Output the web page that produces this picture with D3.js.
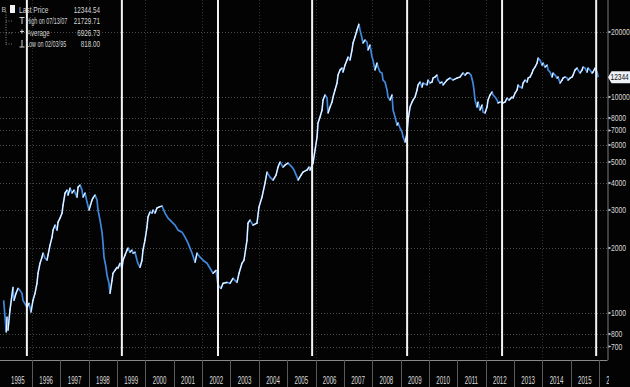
<!DOCTYPE html>
<html><head><meta charset="utf-8">
<script src="https://cdn.jsdelivr.net/npm/d3@7"></script>
<style>html,body{margin:0;padding:0;background:#030303;overflow:hidden}svg{display:block}</style>
</head><body>
<script>
// ---- data ----
const dates = [1995.000,1995.050,1995.090,1995.118,1995.153,1995.224,1995.330,1995.365,1995.436,1995.506,1995.577,1995.647,1995.683,1995.824,1995.894,1995.965,
1996.035,1996.106,1996.176,1996.212,1996.282,1996.353,1996.388,1996.459,1996.529,1996.564,1996.635,1996.706,1996.741,1996.811,1996.882,1996.917,1996.988,
1997.058,1997.093,1997.164,1997.234,1997.270,1997.340,1997.411,1997.481,1997.587,1997.623,1997.693,1997.764,1997.799,1997.870,1997.940,
1998.011,1998.117,1998.152,1998.223,1998.293,1998.328,1998.399,1998.469,1998.505,1998.540,1998.611,1998.646,1998.716,1998.752,1998.822,1998.857,1998.928,1998.998,
1999.034,1999.104,1999.175,1999.210,1999.280,1999.351,1999.386,1999.457,1999.527,1999.563,1999.633,1999.704,1999.739,1999.810,1999.880,1999.915,1999.986,
2000.056,2000.092,2000.162,2000.233,2000.268,2000.339,2000.409,2000.480,2000.586,2000.692,2000.797,2000.938,
2001.044,2001.150,2001.291,2001.397,2001.503,2001.644,2001.750,2001.820,2001.926,
2002.032,2002.173,2002.279,2002.385,2002.491,2002.561,2002.667,2002.737,2002.878,2002.984,
2003.090,2003.231,2003.302,2003.407,2003.478,2003.584,2003.619,2003.690,2003.796,2003.937,
2004.007,2004.113,2004.219,2004.290,2004.395,2004.501,2004.607,2004.677,2004.748,2004.854,2004.924,
2005.030,2005.171,2005.242,2005.347,2005.383,2005.489,2005.559,2005.700,2005.771,2005.806,2005.912,2005.983,
2006.053,2006.088,2006.159,2006.230,2006.265,2006.335,2006.406,2006.441,2006.512,2006.582,2006.618,2006.688,2006.759,2006.794,2006.865,2006.935,2006.970,
2007.041,2007.111,2007.147,2007.217,2007.288,2007.323,2007.393,2007.464,2007.530,2007.570,2007.640,2007.676,2007.746,2007.817,2007.852,2007.922,2007.993,
2008.028,2008.099,2008.169,2008.205,2008.275,2008.346,2008.381,2008.451,2008.522,2008.557,2008.628,2008.698,2008.734,2008.804,2008.875,2008.910,2008.981,
2009.051,2009.086,2009.157,2009.227,2009.263,2009.333,2009.404,2009.439,2009.510,2009.580,2009.616,2009.686,2009.757,2009.792,2009.933,2009.968,
2010.039,2010.110,2010.145,2010.215,2010.286,2010.321,2010.392,2010.463,2010.498,2010.639,2010.745,2010.851,2010.992,
2011.097,2011.203,2011.274,2011.344,2011.415,2011.485,2011.556,2011.591,2011.627,2011.697,2011.732,2011.803,2011.874,2011.909,2011.980,
2012.050,2012.085,2012.156,2012.227,2012.262,2012.332,2012.403,2012.438,2012.509,2012.615,2012.685,2012.756,2012.826,2012.932,2012.968,
2013.038,2013.109,2013.144,2013.215,2013.285,2013.320,2013.391,2013.462,2013.497,2013.567,2013.638,2013.673,2013.744,2013.815,2013.850,2013.920,2013.991,
2014.026,2014.097,2014.168,2014.203,2014.273,2014.344,2014.379,2014.450,2014.520,2014.556,2014.626,2014.697,2014.732,2014.803,2014.873,2014.908,2014.979,
2015.050,2015.085,2015.155,2015.226,2015.261,2015.332,2015.402,2015.438,2015.508,2015.579,2015.614,2015.685,2015.755,2015.790,2015.861,2015.932,2015.970];

const values = [1145,957,818,957,833,1034,1314,1145,1233,1300,1273,1233,1145,1063,1109,1011,
1145,1233,1372,1528,1700,1813,1893,1794,1756,1853,2063,2247,2420,2553,2420,2636,2752,
2902,3162,3594,3707,3516,3788,3594,3707,3441,3828,3911,3707,3441,3594,3264,
2997,3335,3409,3516,3335,2997,2694,2368,2108,1813,1628,1495,1372,1233,1417,1528,1577,1628,
1611,1700,1611,1756,1853,1955,1998,1913,1955,1893,1913,1756,1700,1628,1756,1955,2176,
2498,2782,2933,2902,2997,2902,3062,3095,3129,2902,2752,2636,
2553,2420,2368,2247,2108,1893,1718,1893,1813,
1756,1700,1611,1528,1577,1343,1300,1372,1387,1372,
1448,1387,1528,1700,1756,2176,2608,2694,2553,2608,
3095,3441,3996,4493,4260,4126,4352,4739,5000,4739,4842,
4947,4739,4590,4260,4126,4352,4493,4590,4739,4590,4947,5686,
6527,7581,8082,8706,9685,10220,9894,8433,8988,9481,10000,10780,11610,12640,13340,13620,13050,
14060,14830,15320,14830,16510,17780,18960,20430,21730,20430,18760,17780,18360,17980,16510,17410,15320,
14830,13340,14370,13770,13050,12920,11980,11730,10780,10000,9685,10220,8706,8082,7420,7581,7187,
6885,6527,6190,6812,7827,8988,9481,9685,10000,10780,11370,11730,11120,11610,11370,11980,
11610,11730,12240,12380,12640,11980,11610,11730,11370,11980,12240,11980,12240,
12380,12920,12640,12920,12920,12640,11610,10780,9685,8988,9481,8706,9183,8524,8433,
8988,9685,10220,10550,10220,10000,9685,9380,9481,9380,9481,9894,9685,10000,9894,
10440,10780,11370,11120,11010,11610,11980,11730,12240,12380,12920,13340,13770,14370,15160,14830,14060,
14370,13770,14060,13340,13050,12380,12920,12640,12240,12380,11610,11980,12240,12380,12240,11980,12240,
12380,12640,13340,13620,13340,12920,13340,13770,13620,13050,13620,13340,12920,13050,13620,13050,12344.54];

const eventDates = [1995.82, 1999.17, 2002.56, 2005.88, 2009.23, 2012.58, 2015.90];
const yTicks = [700, 800, 1000, 2000, 3000, 4000, 5000, 6000, 7000, 8000, 10000, 20000];
const yearLabels = d3.range(1995, 2017);
const legendLabels = ["Last Price", "High on 07/13/07", "Average", "Low on 02/03/95"];
const legendValues = ["12344.54", "21729.71", "6926.73", "818.00"];
const lastLabel = "12344";

// ---- setup ----
const W = 630, H = 387;
const plotRight = 607.5, axisY = 360;
const font = "'Liberation Sans Narrow','Liberation Sans',Arial,sans-serif";

function toDate(t) {
  const yr = Math.floor(t);
  const s = new Date(yr, 0, 1), e = new Date(yr + 1, 0, 1);
  return new Date(+s + (t - yr) * (e - s));
}

const x = d3.scaleTime().domain([new Date(1995, 0, 1), new Date(2016, 0, 1)]).range([3.65, 599]);
const y = d3.scaleLog().domain([700, 20000]).range([346.5, 32]);

const svg = d3.select("body").append("svg").attr("width", W).attr("height", H);
svg.append("rect").attr("width", W).attr("height", H).attr("fill", "#030303");

const defs = svg.append("defs");
defs.append("clipPath").attr("id", "plotclip").append("rect")
  .attr("x", 0).attr("y", 0).attr("width", plotRight).attr("height", axisY);

// grid
const grid = svg.append("g").attr("clip-path", "url(#plotclip)");
grid.selectAll("line.h").data(yTicks).join("line")
  .attr("x1", 0).attr("x2", plotRight)
  .attr("y1", d => Math.round(y(d)) + 0.5).attr("y2", d => Math.round(y(d)) + 0.5)
  .attr("stroke", "#4a4a4a").attr("stroke-width", 1).attr("stroke-dasharray", "1,2");
grid.selectAll("line.v").data(d3.range(1996, 2016, 2)).join("line")
  .attr("x1", d => Math.round(x(new Date(d, 0, 1))) + 0.5).attr("x2", d => Math.round(x(new Date(d, 0, 1))) + 0.5)
  .attr("y1", 0).attr("y2", axisY)
  .attr("stroke", "#2e2e2e").attr("stroke-width", 1).attr("stroke-dasharray", "1,2");

// price series
const pts = dates.map((t, i) => ({ d: toDate(t), v: values[i] }));
const line = d3.line().x(p => x(p.d)).y(p => y(p.v));
const series = svg.append("g").attr("clip-path", "url(#plotclip)");
series.append("path").datum(pts).attr("d", line)
  .attr("fill", "none").attr("stroke", "#3f88dc").attr("stroke-width", 1.7).attr("stroke-linejoin", "round");
// whitish highlights on rising segments
const segs = [];
for (let i = 1; i < pts.length; i++) if (pts[i].v >= pts[i - 1].v) segs.push([pts[i - 1], pts[i]]);
series.selectAll("path.up").data(segs).join("path")
  .attr("d", s => line(s)).attr("fill", "none")
  .attr("stroke", "#f2f7ff").attr("stroke-width", 1.2).attr("stroke-linecap", "round");

// event lines (white)
svg.append("g").selectAll("line").data(eventDates).join("line")
  .attr("x1", d => x(toDate(d))).attr("x2", d => x(toDate(d)))
  .attr("y1", 0).attr("y2", 356)
  .attr("stroke", "#f4f4f4").attr("stroke-width", 2);

// bottom axis
const ax = svg.append("g");
ax.append("line").attr("x1", 0).attr("x2", plotRight).attr("y1", axisY + 0.5).attr("y2", axisY + 0.5)
  .attr("stroke", "#8a8a8a").attr("stroke-width", 1);
ax.selectAll("line.sep").data(yearLabels.slice(1)).join("line")
  .attr("x1", d => Math.round(x(new Date(d, 0, 1))) + 0.5).attr("x2", d => Math.round(x(new Date(d, 0, 1))) + 0.5)
  .attr("y1", axisY).attr("y2", H)
  .attr("stroke", "#5a5a5a").attr("stroke-width", 1);
const yearClip = defs.append("clipPath").attr("id", "yearclip");
yearClip.append("rect").attr("x", 0).attr("y", axisY).attr("width", 609).attr("height", 30);
ax.append("g").attr("clip-path", "url(#yearclip)").selectAll("g").data(yearLabels).join("g")
  .attr("transform", d => `translate(${(x(new Date(d, 0, 1)) + x(new Date(d + 1, 0, 1))) / 2},384) scale(0.56,1)`)
  .append("text")
  .attr("text-anchor", "middle")
  .attr("font-family", font).attr("font-size", 11).attr("fill", "#dcdcdc")
  .text(d => d);

// right axis
const ra = svg.append("g");
ra.append("line").attr("x1", plotRight + 0.5).attr("x2", plotRight + 0.5).attr("y1", 0).attr("y2", axisY)
  .attr("stroke", "#7a7a7a").attr("stroke-width", 1);
ra.selectAll("path.tk").data(yTicks).join("path")
  .attr("d", d => `M${plotRight + 1},${y(d) - 1.2}L${plotRight + 4},${y(d)}L${plotRight + 1},${y(d) + 1.2}Z`)
  .attr("fill", "#cfcfcf");
ra.selectAll("g.lab").data(yTicks).join("g").attr("class", "lab")
  .attr("transform", d => `translate(611,${y(d) + 3}) scale(0.77,1)`)
  .append("text")
  .attr("font-family", font).attr("font-size", 8.8).attr("fill", "#dadada")
  .text(d => d);

// last price tag
const ly = y(values[values.length - 1]);
ra.append("path")
  .attr("d", `M${plotRight + 0.5},${ly}L${plotRight + 4},${ly - 6}H630V${ly + 6}H${plotRight + 4}Z`)
  .attr("fill", "#eef2f6");
ra.append("g").attr("transform", `translate(610.5,${ly + 3}) scale(0.76,1)`)
  .append("text")
  .attr("font-family", font).attr("font-size", 8.6).attr("fill", "#111")
  .text(lastLabel);

// legend
const lg = svg.append("g").attr("font-family", font).attr("fill", "#d4d4d4");
const rowY = [10, 21, 33, 44];
lg.append("line").attr("x1", 6).attr("x2", 6).attr("y1", 12).attr("y2", 45)
  .attr("stroke", "#888").attr("stroke-dasharray", "1,1.5");
rowY.slice(1).forEach(ry => lg.append("line").attr("x1", 6).attr("x2", 13).attr("y1", ry).attr("y2", ry)
  .attr("stroke", "#777").attr("stroke-dasharray", "1,1.5"));
lg.append("text").attr("x", 1.5).attr("y", 12).attr("font-size", 7).attr("fill", "#bbb").text("B");
lg.append("rect").attr("x", 10).attr("y", 5).attr("width", 5).attr("height", 8).attr("fill", "#f2f2f2");
// icons
lg.append("path").attr("d", "M19.5,17.5H24.5M22,17.5V24").attr("stroke", "#d0d0d0").attr("stroke-width", 1).attr("fill", "none");
lg.append("path").attr("d", "M20,31.5H24M22,29.5V33.5").attr("stroke", "#d0d0d0").attr("stroke-width", 1).attr("fill", "none");
lg.append("path").attr("d", "M22,40V47M19.5,47H24.5").attr("stroke", "#d0d0d0").attr("stroke-width", 1).attr("fill", "none");
const labelX = [19, 26, 27, 26];
const labelScale = [0.78, 0.64, 0.72, 0.64];
lg.selectAll("g.lab").data(legendLabels).join("g").attr("class", "lab")
  .attr("transform", (d, i) => `translate(${labelX[i]},${rowY[i] + 3}) scale(${labelScale[i]},1)`)
  .append("text").attr("font-size", 8.5)
  .text(d => d);
lg.selectAll("g.val").data(legendValues).join("g").attr("class", "val")
  .attr("transform", (d, i) => `translate(100,${rowY[i] + 3}) scale(0.74,1)`)
  .append("text").attr("font-size", 8.5).attr("text-anchor", "end")
  .text(d => d);
</script>
</body></html>
